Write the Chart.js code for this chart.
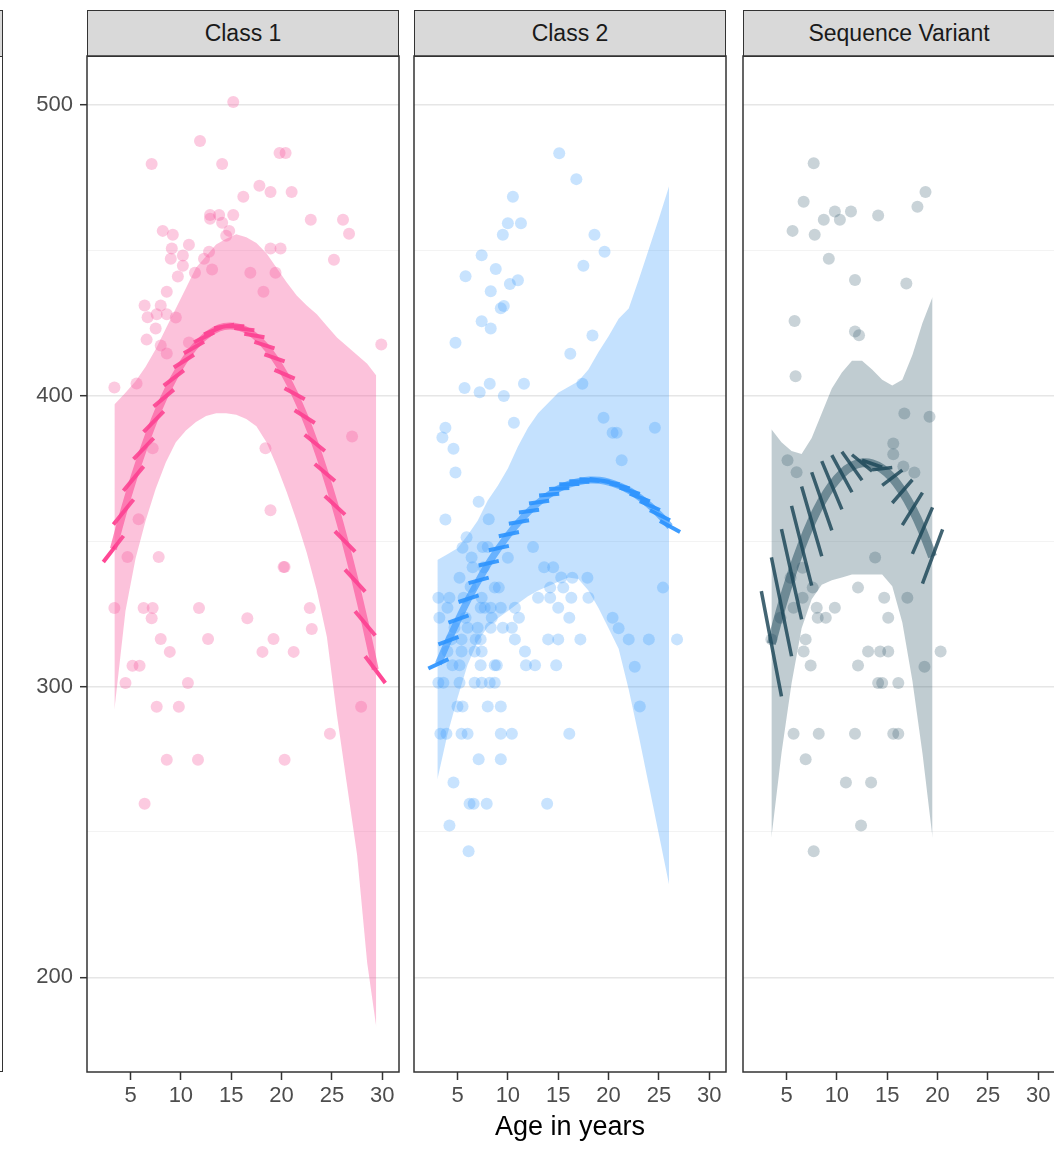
<!DOCTYPE html>
<html>
<head>
<meta charset="utf-8">
<script src="https://cdn.jsdelivr.net/npm/chart.js@4/dist/chart.umd.min.js"></script>
<style>
  body { margin: 0; background: #fff; font-family: "Liberation Sans", Arial, sans-serif; }
  #wrap { position: relative; width: 1054px; height: 1149px; overflow: hidden; }
  .strip { position: absolute; top: 10px; height: 47px; box-sizing: border-box; background: #d9d9d9;
           border: 1.5px solid #333; text-align: center; line-height: 44px; font-size: 23px; color: #1a1a1a; }
  .frame { position: absolute; top: 56px; height: 1016px; box-sizing: border-box; border: 1.5px solid #333; }
  canvas { position: absolute; top: 54px; }
  #xtitle { position: absolute; left: 0; width: 1140px; top: 1113px; text-align: center;
            font-size: 27px; line-height: 27px; color: #000; }
</style>
</head>
<body>
<div id="wrap">
  <div class="strip" style="left:-310px;width:313px"></div>
  <div class="frame" style="left:-310px;width:313px"></div>
  <div class="strip" style="left:87px;width:312px" id="s0"></div>
  <div class="strip" style="left:414px;width:312px" id="s1"></div>
  <div class="strip" style="left:743px;width:312px" id="s2"></div>
  <canvas id="p0" width="401" height="1068" style="left:0px"></canvas>
  <canvas id="p1" width="401" height="1068" style="left:327px"></canvas>
  <canvas id="p2" width="401" height="1068" style="left:656px"></canvas>
  <div id="xtitle">Age in years</div>
</div>
<script>
const panelNames = ['Class 1', 'Class 2', 'Sequence Variant'];
const xTicks = [5, 10, 15, 20, 25, 30];
const yTicks = [200, 250, 300, 350, 400, 450, 500];

// Class 1 - observed scores
const c1Age = [15.2, 11.9, 7.1, 14.1, 19.8, 20.4, 17.8, 18.9, 21.0, 16.2, 12.9, 13.8, 15.2, 12.9, 14.1, 14.8, 14.5,
  22.9, 26.1, 26.7, 8.2, 9.2, 10.8, 9.1, 10.2, 9.0, 12.8, 12.3, 18.9, 19.9, 25.2, 10.2, 11.4, 13.1, 16.9, 19.4, 9.7,
  18.2, 8.6, 6.4, 8.0, 6.7, 7.6, 8.6, 9.5, 7.5, 6.6, 8.0, 8.6, 10.8, 29.9, 3.4, 5.6, 27.0, 18.4, 7.2, 18.9, 5.8, 4.7,
  7.8, 20.2, 20.3, 3.4, 6.3, 7.2, 7.1, 11.8, 16.6, 22.8, 23.0, 8.0, 12.7, 19.2, 8.9, 18.1, 21.2, 5.2, 5.9, 4.5, 10.7,
  7.6, 9.8, 27.9, 24.8, 8.6, 11.7, 20.3, 6.4];
const c1Score = [501, 487.6, 479.7, 479.7, 483.5, 483.5, 472.2, 470.1, 470.1, 468.4, 462.2, 462.2, 462.2, 460.9, 459.5, 456.7, 455,
  460.5, 460.5, 455.7, 456.7, 455.4, 451.9, 450.6, 448.2, 447.1, 449.5, 447.1, 450.6, 450.6, 446.8, 444.7, 442.3, 443.4, 442.3, 442.3, 441,
  435.8, 435.8, 431, 431, 427, 428, 428, 426.9, 423.1, 419.3, 417.3, 414.5, 418.3, 417.6, 402.8, 404.2, 386, 381.9, 381.9, 360.6, 357.5, 344.5,
  344.5, 341.1, 341.1, 327, 327, 327, 323.5, 327, 323.5, 327, 319.8, 316.3, 316.3, 316.3, 311.9, 311.9, 311.9, 307.1, 307.1, 301.2, 301.2,
  293, 293, 293, 283.7, 274.8, 274.8, 274.8, 259.7];
const c1BandAge = [3.4, 4.5, 5.5, 6.5, 7.5, 8.5, 9.5, 10.5, 11.5, 12.5, 13.5, 14.5, 15.5, 16.5, 17.5, 18.5, 19.5, 20.5, 21.5,
  22.5, 23.5, 24.5, 25.5, 26.5, 27.5, 28.5, 29.4];
const c1BandHi = [397, 401, 405, 410, 416, 423, 430, 437, 444, 448, 452, 454, 455.5, 454.5, 452.5, 449, 444, 439, 434.5,
  431, 428, 424, 420, 417, 414, 411, 407];
const c1BandLo = [292, 326, 344, 357, 368, 377, 384, 388, 391, 393, 394, 394, 393.5, 392, 389.5, 384, 376, 367, 357,
  346, 333, 317, 290, 266, 242, 205, 183];
const c1TrendAge = [3.3, 4.3, 5.3, 6.3, 7.3, 8.3, 9.3, 10.3, 11.3, 12.3, 13.3, 14.3, 15.3, 16.3, 17.3, 18.3, 19.3, 20.3,
  21.3, 22.3, 23.3, 24.3, 25.3, 26.3, 27.3, 28.3, 29.3];
const c1Trend = [347.3, 360, 371.5, 381.8, 391.1, 399.2, 406.1, 411.9, 416.6, 420.1, 422.5, 423.8, 423.9, 422.9, 420.7,
  417.4, 413, 407.4, 400.7, 392.8, 383.8, 373.6, 362.3, 349.9, 336.4, 321.7, 305.8];
const c1Slope = [4.5, 4.3, 4.2, 3.6, 3.5, 2.9, 2.6, 2.2, 2.0, 1.7, 1.4, 0.6, 0.0, -0.35, -0.6, -1.1, -1.2, -1.5, -1.9,
  -2.2, -2.8, -2.9, -3.2, -3.5, -3.8, -4.2, -4.6];

// Class 2
const c2Age = [15.1, 16.8, 10.5, 10.0, 11.3, 9.5, 18.6, 19.6, 7.4, 8.8, 5.8, 17.5, 10.2, 11.0, 8.3, 9.3, 9.6, 7.4, 8.3,
  4.8, 18.4, 16.2, 17.4, 5.7, 7.2, 8.2, 9.6, 11.6, 3.8, 3.5, 4.6, 10.6, 4.8, 7.1, 19.5, 20.4, 20.8, 24.6, 21.3,
  3.8, 8.1, 5.9, 5.5, 7.5, 8.0, 12.5, 10.0, 6.4, 6.5, 7.6, 5.2, 13.6, 14.5, 6.3, 8.7, 9.1, 15.3, 16.4, 17.9, 3.1, 4.2,
  5.6, 7.4, 14.2, 15.5, 13.0, 14.2, 16.3, 18.0, 25.4, 4.0, 7.3, 7.7, 8.3, 9.3, 10.7, 15.0, 3.2, 5.8, 8.4, 11.1, 16.1,
  20.4, 4.7, 6.0, 7.0, 8.3, 9.5, 10.4, 21.0, 4.4, 5.4, 6.8, 7.3, 10.7, 14.0, 15.0, 17.2, 22.0, 24.0, 26.8, 4.0, 5.4,
  6.7, 7.4, 11.7, 4.5, 5.2, 7.3, 8.7, 8.9, 11.8, 12.7, 14.8, 22.6, 3.1, 3.6, 5.2, 6.7, 7.4, 8.2, 8.7, 5.0, 5.5, 8.0,
  9.3, 23.1, 3.3, 3.9, 5.4, 6.0, 9.3, 10.4, 16.1, 7.1, 9.3, 4.6, 6.2, 6.6, 7.9, 13.9, 4.2, 6.1];
const c2Score = [483.4, 474.5, 468.4, 459.3, 459.3, 455.4, 455.4, 449.5, 448.3, 443.6, 441.1, 444.7, 438.4, 439.7, 435.9, 430.1, 430.9, 425.6, 423.1,
  418.2, 420.7, 414.4, 404.1, 402.7, 401.2, 404.1, 399.9, 404.1, 389, 385.6, 381.8, 390.7, 373.6, 363.5, 392.4, 387.3, 387.3, 389, 377.8,
  357.4, 357.5, 351.3, 347.7, 348, 348, 348, 344.3, 344.4, 341, 341, 337.4, 341, 341, 334.3, 334, 334, 337.5, 337.4, 337.4, 330.5, 330.5,
  330.5, 330.5, 334, 334, 330.5, 330.5, 330.5, 330.5, 334, 327.1, 327.1, 327.1, 327.1, 327.1, 327.1, 327.1, 323.6, 323.6, 323.6, 323.6, 323.6,
  323.6, 320.2, 320.2, 320.2, 320.2, 320.2, 320.2, 320, 316.2, 316.2, 316.2, 316.2, 316.2, 316.2, 316.2, 316.2, 316.2, 316.2, 316.2, 312, 312,
  312, 312, 312, 307.3, 307.3, 307.3, 307.3, 307.3, 307.3, 307.3, 307.3, 306.8, 301.3, 301.3, 301.3, 301.3, 301.3, 301.3, 301.3, 293.1, 293.1, 293.1,
  293.1, 293.1, 283.7, 283.7, 283.7, 283.7, 283.7, 283.7, 283.7, 275, 275, 267, 259.7, 259.7, 259.7, 259.7, 252.2, 243.3];
const c2BandAge = [3, 4, 5, 6, 7, 8, 9, 10, 11, 12, 13, 14, 15, 16, 17, 18, 19, 20, 21, 22, 23, 24, 25, 26];
const c2BandHi = [343.5, 345.5, 347.5, 352, 357, 364, 369, 375, 382.5, 389, 394, 397.5, 401, 403, 405, 409, 415, 420.5,
  426.5, 430, 440, 450.5, 461, 472];
const c2BandLo = [268, 283.5, 296, 307.5, 315.5, 320.5, 323.5, 326, 328.5, 331, 333, 334.5, 336, 337.5, 337, 333, 327, 320,
  313, 299, 283, 266, 249, 232];
const c2TrendAge = [3.1, 4.1, 5.1, 6.1, 7.1, 8.1, 9.1, 10.1, 11.1, 12.1, 13.1, 14.1, 15.1, 16.1, 17.1, 18.1, 19.1, 20.1,
  21.1, 22.1, 23.1, 24.1, 25.1, 26.1];
const c2Trend = [307.8, 315.8, 323.2, 330.2, 336.5, 342.4, 347.6, 352.4, 356.6, 360.3, 363.4, 366, 368.1, 369.6, 370.5,
  371, 370.9, 370.2, 369, 367.3, 365, 362.2, 358.9, 355];
const c2Slope = [1.6, 1.3, 1.25, 1.15, 0.95, 0.8, 0.75, 0.75, 0.6, 0.45, 0.45, 0.3, 0.2, 0.05, -0.1, -0.3, -0.5, -0.7,
  -0.9, -1.1, -1.3, -1.5, -1.7, -1.9];

// Sequence Variant
const svAge = [7.7, 6.7, 5.6, 7.8, 8.7, 9.8, 10.3, 11.4, 14.1, 18.0, 18.8, 9.2, 11.8, 16.9, 5.8, 11.8, 12.2, 5.9, 16.7,
  19.2, 15.6, 15.6, 5.1, 6.0, 16.6, 17.7, 13.8, 6.6, 5.4, 7.6, 6.6, 12.1, 14.7, 17.0, 4.4, 5.7, 8.0, 9.8, 8.1, 8.9, 15.1,
  3.5, 6.9, 6.7, 13.1, 14.3, 15.1, 20.3, 7.4, 12.1, 18.7, 14.1, 14.5, 16.1, 5.7, 8.2, 11.8, 15.6, 16.1, 6.9, 10.9, 13.4,
  12.4, 7.7];
const svScore = [480, 466.7, 456.7, 455.4, 460.5, 463.4, 460.5, 463.4, 462, 465, 470.1, 447.1, 439.8, 438.6, 425.7, 422.1, 420.8, 406.7, 393.9,
  392.8, 383.6, 379.9, 377.8, 373.7, 375.7, 373.6, 344.4, 340.8, 337.4, 334, 330.5, 334, 330.5, 330.5, 323.6, 327.1, 327.1, 327.1, 323.6, 323.6, 323.6,
  316.2, 316.2, 312, 312, 312, 312, 312, 307.2, 307.2, 306.8, 301.2, 301.2, 301.2, 283.7, 283.7, 283.7, 283.7, 283.7, 275, 267, 267,
  252.2, 243.3];
const svBandAge = [3.5, 4.5, 5.5, 6.5, 7.5, 8.5, 9.5, 10.5, 11.5, 12.5, 13.5, 14.5, 15.5, 16.5, 17.5, 18.5, 19.5];
const svBandHi = [388.5, 384, 381, 380, 385.5, 394, 402.5, 408, 412, 412, 409, 405.5, 403.5, 405.5, 414, 425, 434];
const svBandLo = [248, 277, 301, 320, 330, 335, 336.5, 337.5, 338.5, 338.5, 338.5, 338.5, 334.5, 322, 302, 277, 248];
const svTrendAge = [3.5, 4.5, 5.5, 6.5, 7.5, 8.5, 9.5, 10.5, 11.5, 12.5, 13.5, 14.5, 15.5, 16.5, 17.5, 18.5, 19.5];
const svTrend = [314.7, 327.4, 338.6, 348.4, 356.8, 363.7, 369.2, 373.2, 375.8, 376.9, 376.6, 374.9, 371.8, 367.1, 361.1,
  353.6, 344.7];
const svSlope = [-18.1, -17, -15.5, -13.7, -12, -10, -8.3, -6.4, -4.9, -2.8, -1.2, 0.4, 2.6, 4.0, 5.6, 8.0, 9.3];

Chart.defaults.font.family = '"Liberation Sans", Arial, sans-serif';

const dashHalf = 1;

function pts(xs, ys) {
  return xs.map((x, i) => ({ x: x, y: ys[i] }));
}

// short slope strokes, one per trend point, broken apart with null gaps
function dashes(xs, ys, slopes) {
  const out = [];
  xs.forEach((x, i) => {
    out.push({ x: x - dashHalf, y: ys[i] - slopes[i] * dashHalf });
    out.push({ x: x + dashHalf, y: ys[i] + slopes[i] * dashHalf });
    out.push({ x: x + dashHalf, y: null });
  });
  return out;
}

const frame = {
  id: 'frame',
  afterDraw(chart) {
    const a = chart.chartArea, ctx = chart.ctx;
    ctx.save();
    ctx.strokeStyle = '#333';
    ctx.lineWidth = 1.5;
    ctx.strokeRect(a.left, a.top, a.right - a.left, a.bottom - a.top);
    ctx.restore();
  }
};

// keep the plot area fixed: no extra room for overhanging tick labels
function noPad(s) {
  s.paddingTop = 0; s.paddingBottom = 0; s.paddingLeft = 0; s.paddingRight = 0;
}

const panels = [
  { age: c1Age, score: c1Score, bx: c1BandAge, hi: c1BandHi, lo: c1BandLo, tx: c1TrendAge, ty: c1Trend, sl: c1Slope,
    band: 'rgba(247,95,160,0.38)', dot: 'rgba(247,95,160,0.33)', line: 'rgba(255,45,135,0.55)', dash: 'rgba(255,40,130,0.85)',
    lw: 7, dw: 4 },
  { age: c2Age, score: c2Score, bx: c2BandAge, hi: c2BandHi, lo: c2BandLo, tx: c2TrendAge, ty: c2Trend, sl: c2Slope,
    band: 'rgba(51,150,250,0.29)', dot: 'rgba(51,150,250,0.27)', line: 'rgba(40,145,255,0.6)', dash: 'rgba(40,145,255,0.9)',
    lw: 7, dw: 4 },
  { age: svAge, score: svScore, bx: svBandAge, hi: svBandHi, lo: svBandLo, tx: svTrendAge, ty: svTrend, sl: svSlope,
    band: 'rgba(28,72,90,0.28)', dot: 'rgba(28,72,90,0.24)', line: 'rgba(28,72,90,0.5)', dash: 'rgba(20,62,80,0.8)',
    lw: 9, dw: 3.5 }
];

panels.forEach((p, i) => {
  document.getElementById('s' + i).textContent = panelNames[i];
  const showY = i === 0;
  new Chart(document.getElementById('p' + i), {
    type: 'scatter',
    data: {
      datasets: [
        { data: pts(p.bx, p.lo), showLine: true, borderColor: 'transparent', borderWidth: 0, pointRadius: 0, fill: false },
        { data: pts(p.bx, p.hi), showLine: true, borderColor: 'transparent', borderWidth: 0, pointRadius: 0,
          fill: '-1', backgroundColor: p.band },
        { data: pts(p.age, p.score), pointRadius: 6, pointBorderWidth: 0, backgroundColor: p.dot },
        { data: pts(p.tx, p.ty), showLine: true, borderColor: p.line, borderWidth: p.lw, pointRadius: 0, tension: 0.3,
          borderCapStyle: 'butt' },
        { data: dashes(p.tx, p.ty, p.sl), showLine: true, spanGaps: false, borderColor: p.dash, borderWidth: p.dw,
          pointRadius: 0, borderCapStyle: 'butt' }
      ]
    },
    options: {
      responsive: false,
      animation: false,
      events: [],
      layout: { autoPadding: false, padding: { left: 0, top: 2, right: 2, bottom: 0 } },
      plugins: { legend: { display: false }, tooltip: { enabled: false } },
      scales: {
        x: {
          type: 'linear', min: 0.68, max: 31.66,
          afterBuildTicks: s => { s.ticks = xTicks.map(v => ({ value: v })); },
          afterFit: s => { s.height = 50; noPad(s); },
          grid: { drawOnChartArea: false, drawTicks: true, tickLength: 8, tickColor: '#333', tickWidth: 1.5 },
          border: { display: false },
          ticks: { color: '#4d4d4d', font: { size: 22 }, padding: 3, maxRotation: 0 }
        },
        y: {
          type: 'linear', min: 167.4, max: 516.85,
          afterBuildTicks: s => { s.ticks = yTicks.map(v => ({ value: v })); },
          afterFit: s => { s.width = 87; noPad(s); },
          grid: {
            drawTicks: showY, tickLength: 7, tickWidth: 1.5,
            tickColor: c => (c.tick && c.tick.value % 100 === 0) ? '#333' : 'rgba(0,0,0,0)',
            color: c => (c.tick && c.tick.value % 100 === 0) ? '#e6e6e6' : '#f0f0f0',
            lineWidth: c => (c.tick && c.tick.value % 100 === 0) ? 1.4 : 0.8
          },
          border: { display: false },
          ticks: {
            display: showY, color: '#4d4d4d', font: { size: 22 }, padding: 7,
            callback: v => v % 100 === 0 ? String(v) : ''
          }
        }
      }
    },
    plugins: [frame]
  });
});
</script>
</body>
</html>
